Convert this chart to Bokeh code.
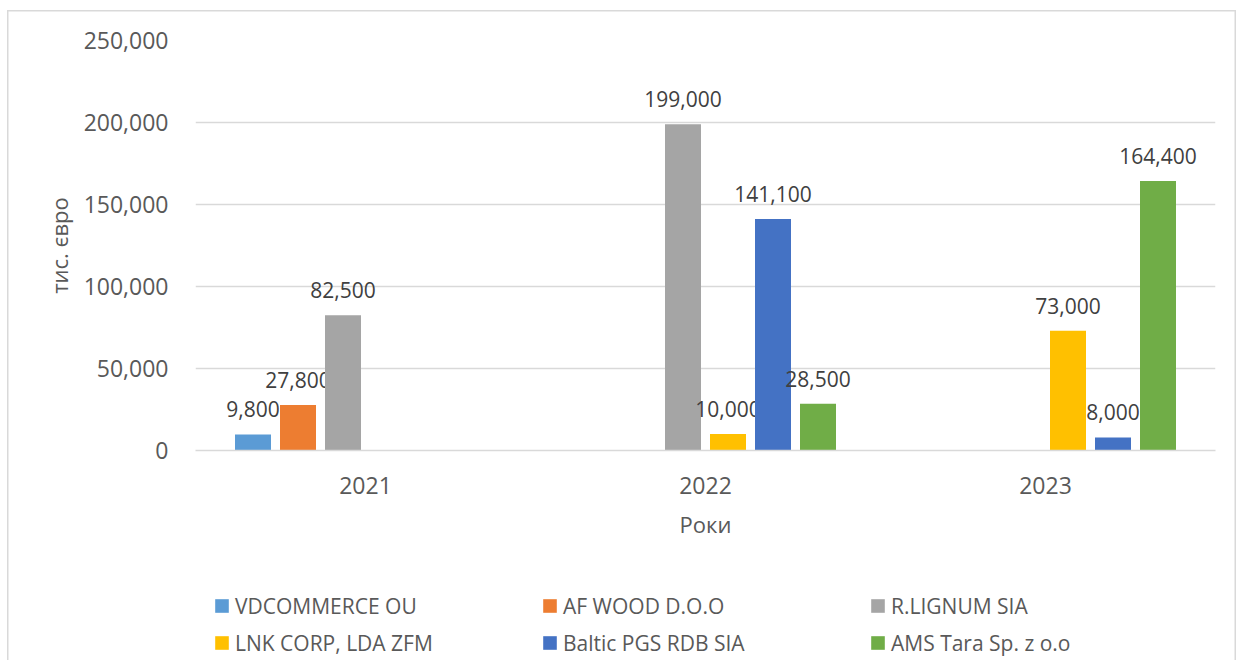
from bokeh.plotting import figure
from bokeh.layouts import column
from bokeh.models import ColumnDataSource, FactorRange, Range1d, FixedTicker, NumeralTickFormatter, Legend, LegendItem
from bokeh.transform import dodge
from bokeh.core.properties import value
from bokeh.embed import file_html
from bokeh.resources import INLINE

# ---- data ----
years = ["2021", "2022", "2023"]
series_names = ["VDCOMMERCE OU", "AF WOOD D.O.O", "R.LIGNUM SIA",
                "LNK CORP, LDA ZFM", "Baltic PGS RDB SIA", "AMS Tara Sp. z o.o"]
vdcommerce = [9800, None, None]
af_wood = [27800, None, None]
r_lignum = [82500, 199000, None]
lnk_corp = [None, 10000, 73000]
baltic_pgs = [None, 141100, 8000]
ams_tara = [None, 28500, 164400]
series_values = [vdcommerce, af_wood, r_lignum, lnk_corp, baltic_pgs, ams_tara]
colors = ["#5B9BD5", "#ED7D31", "#A5A5A5", "#FFC000", "#4472C4", "#70AD47"]
y_ticks = [0, 50000, 100000, 150000, 200000, 250000]
y_title = "тис. євро"
x_title = "Роки"

FONT = "Open Sans"
W = 1240
H1, H2 = 565, 95
FL, FR, FT, FB = 195, 1215, 40, 450  # frame edges in canvas px

x_range = FactorRange(factors=years, range_padding=0)

p = figure(
    width=W, height=H1,
    x_range=x_range,
    y_range=Range1d(0, 250000),
    output_backend="svg", toolbar_location=None,
    min_border_left=FL, min_border_right=W - FR,
    min_border_top=FT, min_border_bottom=H1 - FB,
)
p.outline_line_color = None
p.background_fill_color = "white"
p.border_fill_color = None

# legend strip: a second figure sharing the x range, whose y window lies
# above all values so the (shared-source) bars fall outside its canvas
p2 = figure(width=W, height=H2, x_range=x_range, y_range=Range1d(300000, 600000),
            output_backend="svg", toolbar_location=None,
            x_axis_location=None, y_axis_location=None, min_border=0)
p2.grid.visible = False
p2.outline_line_color = None
p2.background_fill_color = None
p2.border_fill_color = None

slot = 45.0 / 340.0
bw = 36.0 / 340.0

legend_items = []
for i, (name, vals, col) in enumerate(zip(series_names, series_values, colors)):
    xs = [y for y, v in zip(years, vals) if v is not None]
    tops = [v for v in vals if v is not None]
    labels = [f"{v:,}" for v in tops]
    src = ColumnDataSource(dict(x=xs, top=tops, label=labels))
    off = (i - 2.5) * slot
    p.vbar(x=dodge("x", off, range=x_range), top="top", width=bw, source=src,
           fill_color=col, line_color=None)
    p.text(x=dodge("x", off, range=x_range), y="top", text="label", source=src,
           text_align="center", text_baseline="middle", y_offset=-25,
           text_font=value(FONT), text_font_size="21px", text_color="#404040")
    r2 = p2.vbar(x=dodge("x", off, range=x_range), top="top", width=bw, source=src,
                 fill_color=col, line_color=None)
    legend_items.append(LegendItem(label=name, renderers=[r2]))

# grid
p.xgrid.visible = False
p.ygrid.ticker = FixedTicker(ticks=y_ticks)
p.ygrid.grid_line_color = "#D9D9D9"
p.ygrid.grid_line_width = 1.3

# y axis
p.yaxis.ticker = FixedTicker(ticks=y_ticks)
p.yaxis.formatter = NumeralTickFormatter(format="0,0")
p.yaxis.axis_line_color = None
p.yaxis.major_tick_line_color = None
p.yaxis.minor_tick_line_color = None
p.yaxis.major_tick_in = 0
p.yaxis.major_tick_out = 0
p.yaxis.major_label_standoff = 27
p.yaxis.major_label_text_font = FONT
p.yaxis.major_label_text_font_size = "23px"
p.yaxis.major_label_text_color = "#595959"
p.yaxis.axis_label = y_title
p.yaxis.axis_label_text_font = FONT
p.yaxis.axis_label_text_font_size = "22px"
p.yaxis.axis_label_text_font_style = "normal"
p.yaxis.axis_label_text_color = "#595959"
p.yaxis.axis_label_standoff = 7

# x axis
p.xaxis.axis_line_color = "#D9D9D9"
p.xaxis.axis_line_width = 1.3
p.xaxis.major_tick_line_color = None
p.xaxis.minor_tick_line_color = None
p.xaxis.major_tick_in = 0
p.xaxis.major_tick_out = 0
p.xaxis.major_label_standoff = 26
p.xaxis.major_label_text_font = FONT
p.xaxis.major_label_text_font_size = "23px"
p.xaxis.major_label_text_color = "#595959"
p.xaxis.axis_label = x_title
p.xaxis.axis_label_text_font = FONT
p.xaxis.axis_label_text_font_size = "22px"
p.xaxis.axis_label_text_font_style = "normal"
p.xaxis.axis_label_text_color = "#595959"
p.xaxis.axis_label_standoff = 12

legend = Legend(items=legend_items, orientation="horizontal", ncols=3,
                location=(18, 3), margin=0, padding=0,
                glyph_width=17, glyph_height=17, label_standoff=5,
                label_width=298, label_height=29, spacing=8,
                label_text_font=FONT, label_text_font_size="21px",
                label_text_color="#595959",
                border_line_color=None, background_fill_alpha=0)
p2.add_layout(legend)

layout = column(p, p2, spacing=0)
layout.styles = {"box-shadow": (
    "inset 0 10px 0 0 white, inset 7px 0 0 0 white, inset -4px 0 0 0 white, "
    "inset 0 11.5px 0 0 #D9D9D9, inset 8.5px 0 0 0 #D9D9D9, inset -5.5px 0 0 0 #D9D9D9"
)}

open("out.html", "w").write(file_html(layout, INLINE))
